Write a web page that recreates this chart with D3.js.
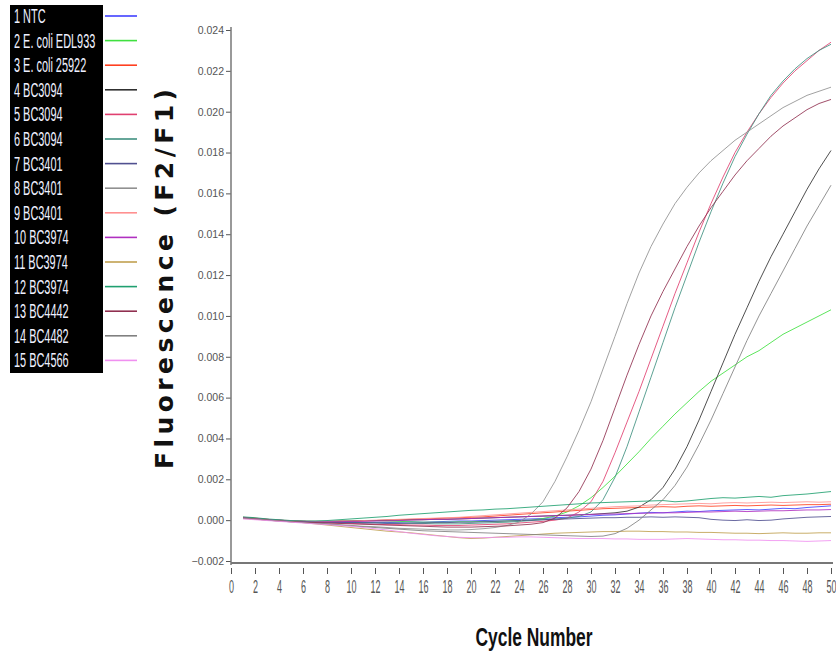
<!DOCTYPE html>
<html><head><meta charset="utf-8">
<script src="https://cdn.jsdelivr.net/npm/d3@7"></script>
<style>body{margin:0;background:#fff;} svg{display:block;font-family:"Liberation Sans",Arial,sans-serif;}</style>
</head><body><svg id="chart" width="836" height="654"></svg>
<script>
const cycles = [1,2,3,4,5,6,7,8,9,10,11,12,13,14,15,16,17,18,19,20,21,22,23,24,25,26,27,28,29,30,31,32,33,34,35,36,37,38,39,40,41,42,43,44,45,46,47,48,49,50];
const seriesNames = ["1 NTC","2 E. coli EDL933","3 E. coli 25922","4 BC3094","5 BC3094","6 BC3094","7 BC3401","8 BC3401","9 BC3401","10 BC3974","11 BC3974","12 BC3974","13 BC4442","14 BC4482","15 BC4566"];
const seriesColors = ["#4040ff","#40e040","#ff4020","#303030","#e04070","#409080","#505090","#909090","#ff9090","#b030c0","#c0a050","#20a070","#903050","#808080","#f090f0"];
const xTicks = [0,2,4,6,8,10,12,14,16,18,20,22,24,26,28,30,32,34,36,38,40,42,44,46,48,50];
const yTicks = [-0.002,0,0.002,0.004,0.006,0.008,0.010,0.012,0.014,0.016,0.018,0.020,0.022,0.024];

const ntc = [0.00012,0.00008,0.00003,0.00000,-0.00004,-0.00006,-0.00008,-0.00008,-0.00010,-0.00010,
 -0.00012,-0.00010,-0.00012,-0.00010,-0.00008,-0.00010,-0.00008,-0.00006,-0.00004,-0.00004,
 -0.00002,0.00000,0.00002,0.00004,0.00006,0.00008,0.00012,0.00014,0.00016,0.00020,
 0.00024,0.00026,0.00030,0.00034,0.00038,0.00036,0.00040,0.00044,0.00042,0.00046,
 0.00048,0.00050,0.00052,0.00050,0.00054,0.00058,0.00056,0.00062,0.00066,0.00070];
const edl933 = [0.00010,0.00006,0.00002,-0.00002,-0.00004,-0.00006,-0.00008,-0.00008,-0.00006,-0.00004,
 -0.00002,-0.00002,-0.00004,-0.00006,-0.00008,-0.00010,-0.00010,-0.00010,-0.00008,-0.00008,
 -0.00006,-0.00006,-0.00004,-0.00002,0.00000,0.00008,0.00020,0.00040,0.00070,0.00110,
 0.00160,0.00215,0.00275,0.00335,0.00400,0.00460,0.00520,0.00575,0.00630,0.00680,
 0.00720,0.00760,0.00800,0.00830,0.00870,0.00910,0.00940,0.00970,0.01000,0.01030];
const ec25922 = [0.00014,0.00010,0.00004,0.00000,-0.00004,-0.00006,-0.00008,-0.00008,-0.00006,-0.00006,
 -0.00004,-0.00002,0.00000,0.00002,0.00004,0.00006,0.00008,0.00010,0.00012,0.00014,
 0.00016,0.00020,0.00024,0.00028,0.00032,0.00036,0.00040,0.00044,0.00048,0.00052,
 0.00056,0.00058,0.00060,0.00062,0.00064,0.00066,0.00064,0.00068,0.00070,0.00068,
 0.00070,0.00072,0.00070,0.00072,0.00074,0.00072,0.00074,0.00076,0.00076,0.00078];
const bc3094a = [0.00012,0.00008,0.00002,-0.00002,-0.00004,-0.00006,-0.00006,-0.00006,-0.00004,-0.00004,
 -0.00002,-0.00002,0.00000,0.00000,0.00002,0.00002,0.00004,0.00004,0.00006,0.00008,
 0.00010,0.00012,0.00014,0.00016,0.00018,0.00020,0.00022,0.00024,0.00026,0.00028,
 0.00032,0.00036,0.00044,0.00064,0.00100,0.00160,0.00250,0.00360,0.00490,0.00630,
 0.00770,0.00910,0.01040,0.01170,0.01290,0.01400,0.01510,0.01620,0.01720,0.01810];
const bc3094b = [0.00010,0.00006,0.00002,-0.00002,-0.00006,-0.00008,-0.00010,-0.00012,-0.00014,-0.00016,
 -0.00018,-0.00020,-0.00022,-0.00022,-0.00024,-0.00024,-0.00026,-0.00026,-0.00026,-0.00024,
 -0.00022,-0.00020,-0.00018,-0.00014,-0.00010,-0.00006,0.00000,0.00010,0.00040,0.00090,
 0.00190,0.00330,0.00480,0.00630,0.00790,0.00950,0.01110,0.01260,0.01410,0.01550,
 0.01680,0.01800,0.01900,0.01990,0.02070,0.02140,0.02200,0.02250,0.02300,0.02340];
const bc3094c = [0.00012,0.00008,0.00004,0.00000,-0.00004,-0.00006,-0.00008,-0.00008,-0.00010,-0.00010,
 -0.00012,-0.00012,-0.00014,-0.00014,-0.00016,-0.00016,-0.00018,-0.00018,-0.00018,-0.00016,
 -0.00014,-0.00012,-0.00010,-0.00006,-0.00002,0.00002,0.00006,0.00010,0.00018,0.00040,
 0.00100,0.00210,0.00360,0.00530,0.00700,0.00870,0.01040,0.01200,0.01360,0.01510,
 0.01650,0.01780,0.01890,0.01990,0.02080,0.02150,0.02210,0.02260,0.02300,0.02330];
const bc3401a = [0.00010,0.00008,0.00002,-0.00002,-0.00004,-0.00006,-0.00008,-0.00010,-0.00012,-0.00012,
 -0.00014,-0.00014,-0.00016,-0.00016,-0.00014,-0.00014,-0.00012,-0.00012,-0.00010,-0.00010,
 -0.00008,-0.00006,-0.00004,-0.00002,0.00000,0.00002,0.00004,0.00006,0.00008,0.00010,
 0.00012,0.00012,0.00014,0.00014,0.00016,0.00014,0.00016,0.00014,0.00012,0.00004,
 0.00000,-0.00002,0.00002,-0.00002,0.00000,0.00006,0.00010,0.00014,0.00016,0.00018];
const bc3401b = [0.00012,0.00008,0.00002,-0.00002,-0.00006,-0.00010,-0.00014,-0.00018,-0.00022,-0.00026,
 -0.00030,-0.00032,-0.00036,-0.00040,-0.00042,-0.00044,-0.00046,-0.00048,-0.00048,-0.00046,
 -0.00042,-0.00036,-0.00026,-0.00010,0.00030,0.00090,0.00190,0.00310,0.00440,0.00580,
 0.00740,0.00900,0.01060,0.01210,0.01340,0.01450,0.01550,0.01630,0.01700,0.01760,
 0.01810,0.01860,0.01900,0.01940,0.01980,0.02020,0.02050,0.02080,0.02100,0.02120];
const bc3401c = [0.00010,0.00008,0.00004,0.00000,-0.00002,-0.00004,-0.00006,-0.00006,-0.00004,-0.00004,
 -0.00002,0.00000,0.00002,0.00004,0.00006,0.00008,0.00010,0.00012,0.00014,0.00018,
 0.00022,0.00026,0.00030,0.00034,0.00038,0.00042,0.00046,0.00050,0.00054,0.00058,
 0.00062,0.00066,0.00068,0.00070,0.00074,0.00076,0.00078,0.00080,0.00082,0.00080,
 0.00084,0.00086,0.00084,0.00086,0.00088,0.00086,0.00088,0.00090,0.00088,0.00090];
const bc3974a = [0.00012,0.00008,0.00004,0.00000,-0.00004,-0.00006,-0.00008,-0.00008,-0.00008,-0.00006,
 -0.00006,-0.00004,-0.00004,-0.00002,0.00000,0.00002,0.00004,0.00004,0.00006,0.00008,
 0.00010,0.00012,0.00014,0.00016,0.00018,0.00020,0.00022,0.00024,0.00026,0.00028,
 0.00030,0.00030,0.00032,0.00034,0.00034,0.00036,0.00036,0.00038,0.00040,0.00040,
 0.00042,0.00044,0.00042,0.00044,0.00046,0.00046,0.00048,0.00050,0.00050,0.00052];
const bc3974b = [0.00008,0.00004,0.00000,-0.00004,-0.00008,-0.00012,-0.00018,-0.00024,-0.00030,-0.00036,
 -0.00042,-0.00048,-0.00054,-0.00058,-0.00062,-0.00068,-0.00074,-0.00080,-0.00086,-0.00090,
 -0.00088,-0.00084,-0.00080,-0.00076,-0.00072,-0.00068,-0.00064,-0.00062,-0.00060,-0.00058,
 -0.00056,-0.00056,-0.00054,-0.00054,-0.00056,-0.00056,-0.00058,-0.00058,-0.00060,-0.00060,
 -0.00062,-0.00064,-0.00064,-0.00066,-0.00064,-0.00062,-0.00064,-0.00064,-0.00062,-0.00062];
const bc3974c = [0.00016,0.00012,0.00006,0.00002,-0.00002,-0.00004,-0.00004,-0.00002,0.00002,0.00006,
 0.00010,0.00014,0.00018,0.00024,0.00028,0.00032,0.00036,0.00040,0.00044,0.00048,
 0.00050,0.00054,0.00056,0.00060,0.00064,0.00068,0.00072,0.00076,0.00080,0.00084,
 0.00086,0.00088,0.00090,0.00092,0.00094,0.00096,0.00090,0.00094,0.00100,0.00106,
 0.00110,0.00108,0.00112,0.00116,0.00112,0.00120,0.00124,0.00128,0.00134,0.00140];
const bc4442 = [0.00010,0.00006,0.00000,-0.00004,-0.00008,-0.00010,-0.00012,-0.00014,-0.00016,-0.00018,
 -0.00020,-0.00022,-0.00024,-0.00026,-0.00028,-0.00030,-0.00032,-0.00034,-0.00034,-0.00034,
 -0.00032,-0.00030,-0.00028,-0.00024,-0.00020,-0.00012,0.00010,0.00060,0.00140,0.00250,
 0.00390,0.00550,0.00710,0.00860,0.01000,0.01120,0.01230,0.01340,0.01440,0.01530,
 0.01610,0.01690,0.01760,0.01820,0.01880,0.01930,0.01970,0.02010,0.02040,0.02060];
const bc4482 = [0.00010,0.00006,0.00000,-0.00004,-0.00008,-0.00012,-0.00016,-0.00020,-0.00024,-0.00028,
 -0.00032,-0.00036,-0.00040,-0.00044,-0.00048,-0.00052,-0.00054,-0.00056,-0.00058,-0.00060,
 -0.00062,-0.00064,-0.00066,-0.00068,-0.00070,-0.00072,-0.00074,-0.00076,-0.00078,-0.00080,
 -0.00078,-0.00066,-0.00040,0.00000,0.00050,0.00100,0.00170,0.00260,0.00370,0.00490,
 0.00620,0.00750,0.00880,0.01000,0.01110,0.01220,0.01330,0.01440,0.01540,0.01640];
const bc4566 = [0.00006,0.00002,-0.00002,-0.00006,-0.00010,-0.00014,-0.00018,-0.00022,-0.00026,-0.00030,
 -0.00036,-0.00042,-0.00048,-0.00056,-0.00064,-0.00070,-0.00076,-0.00080,-0.00084,-0.00086,
 -0.00086,-0.00084,-0.00084,-0.00082,-0.00082,-0.00084,-0.00086,-0.00088,-0.00090,-0.00090,
 -0.00090,-0.00092,-0.00092,-0.00094,-0.00094,-0.00094,-0.00092,-0.00090,-0.00092,-0.00094,
 -0.00096,-0.00096,-0.00098,-0.00098,-0.00100,-0.00100,-0.00102,-0.00104,-0.00102,-0.00100];

const seriesValues = [ntc, edl933, ec25922, bc3094a, bc3094b, bc3094c, bc3401a, bc3401b, bc3401c, bc3974a, bc3974b, bc3974c, bc4442, bc4482, bc4566];

const svg = d3.select("#chart");
const x = d3.scaleLinear().domain([0, 50]).range([231, 831]);
const y = d3.scaleLinear().domain([-0.002, 0.024]).range([561, 30]);

// Legend
const legTop = 16, legStep = 24.6;
svg.append("rect").attr("x", 10).attr("y", 5).attr("width", 93).attr("height", 368).attr("fill", "#000");
const leg = svg.append("g");
seriesNames.forEach((name, i) => {
  const ry = legTop + i * legStep;
  leg.append("text")
    .attr("transform", `translate(14,${ry + 7}) scale(0.56,1)`)
    .attr("font-size", 19.5).attr("fill", "#eef0ff").text(name);
  leg.append("line").attr("x1", 105).attr("x2", 137).attr("y1", ry).attr("y2", ry)
    .attr("stroke", seriesColors[i]).attr("stroke-width", 1.6);
});

// Y axis
const yAxis = d3.axisLeft(y).tickValues(yTicks).tickFormat(d3.format(".3f")).tickSize(5).tickPadding(2);
const gy = svg.append("g").attr("transform", "translate(231,0)").call(yAxis);
gy.select(".domain").remove();
gy.selectAll(".tick line").attr("stroke", "#555");
gy.selectAll(".tick text").attr("fill", "#555").attr("font-size", 10.5)
  .attr("font-family", "'Liberation Sans',Arial,sans-serif");
svg.append("line").attr("x1", 231).attr("x2", 231).attr("y1", 27).attr("y2", 565)
  .attr("stroke", "#777").attr("stroke-width", 1.5);

// X axis
const xAxis = d3.axisBottom(x).tickValues(xTicks).tickSize(0).tickPadding(0).tickFormat(d3.format("d"));
const axisY = 563;
const gx = svg.append("g").attr("transform", `translate(0,${axisY})`).call(xAxis);
gx.select(".domain").remove();
gx.selectAll(".tick line").attr("y1", 5).attr("y2", 11).attr("stroke", "#555");
gx.selectAll(".tick text").attr("y", 0).attr("dy", 0)
  .attr("transform", "translate(0,30) scale(0.5,1)")
  .attr("font-size", 18).attr("fill", "#555")
  .attr("font-family", "'Liberation Sans',Arial,sans-serif");
svg.append("line").attr("x1", 231).attr("x2", 833).attr("y1", axisY).attr("y2", axisY)
  .attr("stroke", "#777").attr("stroke-width", 2);

// Lines
const line = d3.line().x((d, i) => x(cycles[i])).y(d => y(d));
const gl = svg.append("g");
seriesValues.forEach((vals, i) => {
  gl.append("path").datum(vals).attr("d", line)
    .attr("fill", "none").attr("stroke", seriesColors[i]).attr("stroke-width", 1)
    .attr("stroke-opacity", 0.85);
});

// Axis titles
svg.append("text")
  .attr("transform", "translate(173,279) rotate(-90)")
  .attr("text-anchor", "middle").attr("font-weight", "bold").attr("font-size", 25)
  .attr("font-family", "'DejaVu Sans',Verdana,sans-serif")
  .attr("textLength", 380).attr("lengthAdjust", "spacing")
  .attr("fill", "#111").text("Fluorescence (F2/F1)");

svg.append("text")
  .attr("transform", "translate(534,646) scale(0.67,1)")
  .attr("text-anchor", "middle").attr("font-weight", "bold").attr("font-size", 26)
  .attr("fill", "#111").text("Cycle Number");
</script></body></html>
